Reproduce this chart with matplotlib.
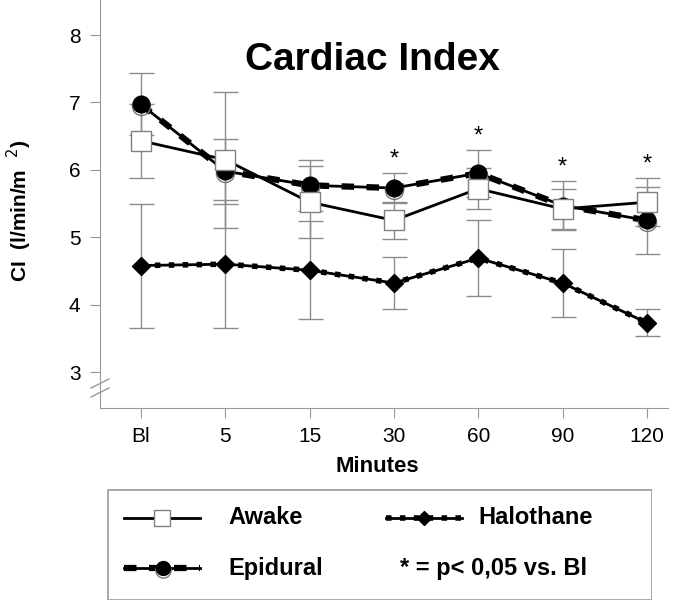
import numpy as np
import matplotlib
matplotlib.use('Agg')
import matplotlib.pyplot as plt
from matplotlib.patches import Rectangle
from matplotlib.lines import Line2D

plt.rcParams['font.family'] = ['Liberation Sans', 'DejaVu Sans']

# data
minutes = ['Bl', '5', '15', '30', '60', '90', '120']
awake = [6.43, 6.15, 5.52, 5.25, 5.72, 5.42, 5.52]
awake_sd = [0.55, 1.01, 0.53, 0.27, 0.30, 0.30, 0.36]
epidural = [6.97, 5.98, 5.77, 5.73, 5.95, 5.47, 5.25]
epidural_sd = [0.46, 0.48, 0.38, 0.22, 0.35, 0.36, 0.50]
halothane = [4.58, 4.60, 4.51, 4.32, 4.69, 4.32, 3.73]
halothane_sd = [0.92, 0.95, 0.73, 0.38, 0.56, 0.50, 0.20]
signif = [False, False, False, True, True, True, True]

W, H = 685, 605
fig = plt.figure(figsize=(W / 100, H / 100), dpi=100)
ax = fig.add_axes([100 / W, 1 - 408 / H, 568 / W, 408 / H])
x = np.arange(len(minutes))
grey = '#8c8c8c'

# error bars behind everything
for vals, sd in [(awake, awake_sd), (epidural, epidural_sd), (halothane, halothane_sd)]:
    ax.errorbar(x, vals, yerr=sd, fmt='none', ecolor=grey, elinewidth=1,
                capsize=9, capthick=1, zorder=1)

# halothane: solid + dotted overlay, diamonds
ax.plot(x, halothane, color='k', lw=2, zorder=3)
ax.plot(x, halothane, color='k', lw=4, ls=(0, (1, 1.5)), zorder=3)
ax.plot(x, halothane, 'D', color='k', ms=9, zorder=4)

# epidural: solid + dashed overlay, filled circle with offset ring
ax.plot(x, epidural, color='k', lw=2, zorder=3)
ax.plot(x, epidural, color='k', lw=4.5, ls=(0, (2, 2)), zorder=3)
ax.plot(x, np.array(epidural) - 0.03, 'o', ms=13, mfc='none', mec='#777777', mew=1, zorder=4)
ax.plot(x, epidural, 'o', color='k', ms=12, zorder=5)

# awake: solid, white squares
ax.plot(x, awake, '-', color='k', lw=2, marker='s', ms=14, mfc='white',
        mec='#808080', mew=1, zorder=6)

# significance stars
for i, s in enumerate(signif):
    if s:
        top = max(awake[i] + awake_sd[i], epidural[i] + epidural_sd[i],
                  halothane[i] + halothane_sd[i])
        ax.text(i, top + 0.2, '*', ha='center', va='center', fontsize=17)

ax.set_xlim(-0.486, 6.25)
ax.set_ylim(2.466, 8.52)
ax.set_xticks(x)
ax.set_xticklabels(minutes)
ax.set_yticks([3, 4, 5, 6, 7, 8])
for sp in ['top', 'right']:
    ax.spines[sp].set_visible(False)
for sp in ['left', 'bottom']:
    ax.spines[sp].set_color('#999999')
ax.tick_params(direction='out', length=7, color='#999999', labelsize=15, pad=7)

# axis break
for yy in [388, 397]:
    fig.add_artist(Line2D([91 / W, 109 / W], [1 - yy / H, 1 - (yy - 9) / H],
                          color='#999999', lw=1))

fig.text(372 / W, 1 - 60 / H, 'Cardiac Index', fontsize=28, fontweight='bold',
         ha='center', va='center')
fig.text(19 / W, 1 - 211 / H, 'CI  (l/min/m  $^{2}$)', fontsize=15, fontweight='bold',
         rotation=90, ha='center', va='center')
fig.text(377 / W, 1 - 466 / H, 'Minutes', fontsize=16, fontweight='bold',
         ha='center', va='center')

# legend box drawn by hand
lg = fig.add_axes([107 / W, 1 - 600 / H, (652 - 107) / W, 111 / H])
lg.set_xlim(107, 652)
lg.set_ylim(600, 489)
lg.axis('off')
lg.add_patch(Rectangle((107.5, 489.5), 544, 110, fill=False, ec='#999999', lw=1.2))

lg.plot([124, 200], [518, 518], color='k', lw=2)
lg.plot([162], [518], 's', ms=12, mfc='white', mec='#808080', mew=1)
lg.text(228, 518, 'Awake', fontsize=17, fontweight='bold', va='center')

lg.plot([124, 200], [568, 568], color='k', lw=2)
lg.plot([124, 200], [568, 568], color='k', lw=4.5, ls=(0, (2, 2)))
lg.plot([163], [570], 'o', ms=11, mfc='none', mec='#777777', mew=1)
lg.plot([163], [568], 'o', color='k', ms=10)
lg.text(228, 568, 'Epidural', fontsize=17, fontweight='bold', va='center')

lg.plot([386, 462], [518, 518], color='k', lw=2)
lg.plot([386, 462], [518, 518], color='k', lw=4, ls=(0, (1, 1.5)))
lg.plot([424], [518], 'D', color='k', ms=7)
lg.text(478, 518, 'Halothane', fontsize=17, fontweight='bold', va='center')

lg.text(400, 568, '* = p< 0,05 vs. Bl', fontsize=17, fontweight='bold', va='center')

fig.savefig('out.png', dpi=100)
